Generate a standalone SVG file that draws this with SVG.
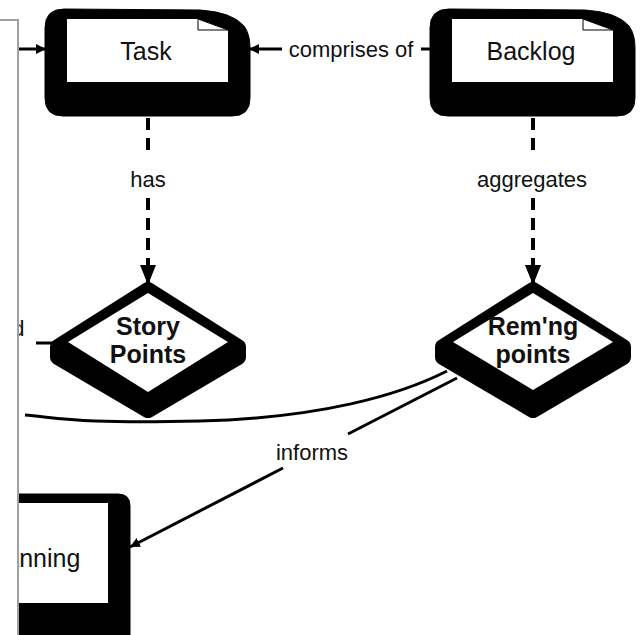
<svg xmlns="http://www.w3.org/2000/svg" width="644" height="635" viewBox="0 0 644 635">
<style>
.blob{fill:#000;stroke:#000}
.card{fill:#fff;stroke:none}
.fold{fill:#fff;stroke:#000;stroke-width:1}
.nt{font-family:"Liberation Sans",Arial,sans-serif;font-size:25px;fill:#111;text-anchor:middle}
.bt{font-family:"Liberation Sans",Arial,sans-serif;font-size:25px;font-weight:bold;fill:#111;text-anchor:middle}
.lb{font-family:"Liberation Sans",Arial,sans-serif;font-size:22px;fill:#111;text-anchor:middle}
.ln{fill:none;stroke:#000;stroke-width:3}
.dl{fill:none;stroke:#000;stroke-width:4;stroke-dasharray:12 8}
</style>
<defs>
<marker id="big" viewBox="0 0 20 16" refX="20" refY="8" markerWidth="20" markerHeight="16" markerUnits="userSpaceOnUse" orient="auto"><path d="M0,0 L20,8 L0,16 Z" fill="#000"/></marker>
<marker id="sm" viewBox="0 0 10 10" refX="10" refY="5" markerWidth="10" markerHeight="10" markerUnits="userSpaceOnUse" orient="auto"><path d="M0,0 L10,5 L0,10 Z" fill="#000"/></marker>
</defs>

<g id="connectors">
<path class="ln" d="M19,49 L46,49" marker-end="url(#sm)"/>
<path class="ln" d="M432,49 L421,49"/>
<path class="ln" d="M282,49 L249,49" marker-end="url(#sm)"/>
<text class="lb" x="351" y="57">comprises of</text>
<path class="dl" d="M148,118 L148,157"/>
<path class="dl" d="M148,198 L148,285" marker-end="url(#big)"/>
<text class="lb" x="148" y="187">has</text>
<path class="dl" d="M533,118 L533,157"/>
<path class="dl" d="M533,198 L533,285" marker-end="url(#big)"/>
<text class="lb" x="532" y="187">aggregates</text>
<path class="ln" d="M36,343 L56,343"/>
<text class="lb" x="24.5" y="336" text-anchor="end" style="text-anchor:end">d</text>
<path class="ln" d="M447,371 C400,395 320,418 200,421 S60,418 25,415"/>
<path class="ln" d="M457,378 L348,434"/>
<path class="ln" d="M283,468 L130,547" marker-end="url(#sm)"/>
<text class="lb" x="312" y="460">informs</text>
</g>

<g id="task">
<path class="blob" d="M64,9 L200,10 Q232,12 244,26 Q250,34 250,48 L250,98 Q250,116 232,116 L63,116 Q45,116 45,98 L45,28 Q45,9 64,9 Z"/>
<path class="card" d="M67,19 L198,19 L228,30 L228,82 L67,82 Z"/>
<path class="fold" d="M198,19 L198,30 L228,30 Z"/>
<text class="nt" x="146" y="60">Task</text>
</g>

<g id="backlog">
<path class="blob" d="M449,9 L585,10 Q617,12 629,26 Q635,34 635,48 L635,98 Q635,116 617,116 L448,116 Q430,116 430,98 L430,28 Q430,9 449,9 Z"/>
<path class="card" d="M452,19 L583,19 L613,30 L613,82 L452,82 Z"/>
<path class="fold" d="M583,19 L583,30 L613,30 Z"/>
<text class="nt" x="531" y="60">Backlog</text>
</g>

<g id="story-points">
<path class="blob" stroke-width="16" stroke-linejoin="round" d="M148,290 L238,347 L238,357 L148,410 L58,357 L58,347 Z"/>
<path class="card" d="M148,293 L228,342 L148,392 L68,342 Z"/>
<text class="bt" x="148" y="335">Story</text>
<text class="bt" x="148" y="363">Points</text>
</g>

<g id="remng-points">
<path class="blob" stroke-width="16" stroke-linejoin="round" d="M533,290 L623,347 L623,357 L533,410 L443,357 L443,347 Z"/>
<path class="card" d="M533,293 L613,342 L533,390 L453,342 Z"/>
<text class="bt" x="533" y="335">Rem'ng</text>
<text class="bt" x="533" y="363">points</text>
</g>

<g id="planning">
<path class="blob" d="M-10,494 L118,494 Q130,494 130,506 L130,640 L-10,640 Z"/>
<rect class="card" x="-10" y="503" width="118" height="100"/>
<text class="nt" x="-17" y="567" style="text-anchor:start">Planning</text>
</g>

<g id="panel">
<rect x="-4" y="20" width="22" height="620" fill="#fff" stroke="#a0a0a0" stroke-width="2"/>
</g>
</svg>
